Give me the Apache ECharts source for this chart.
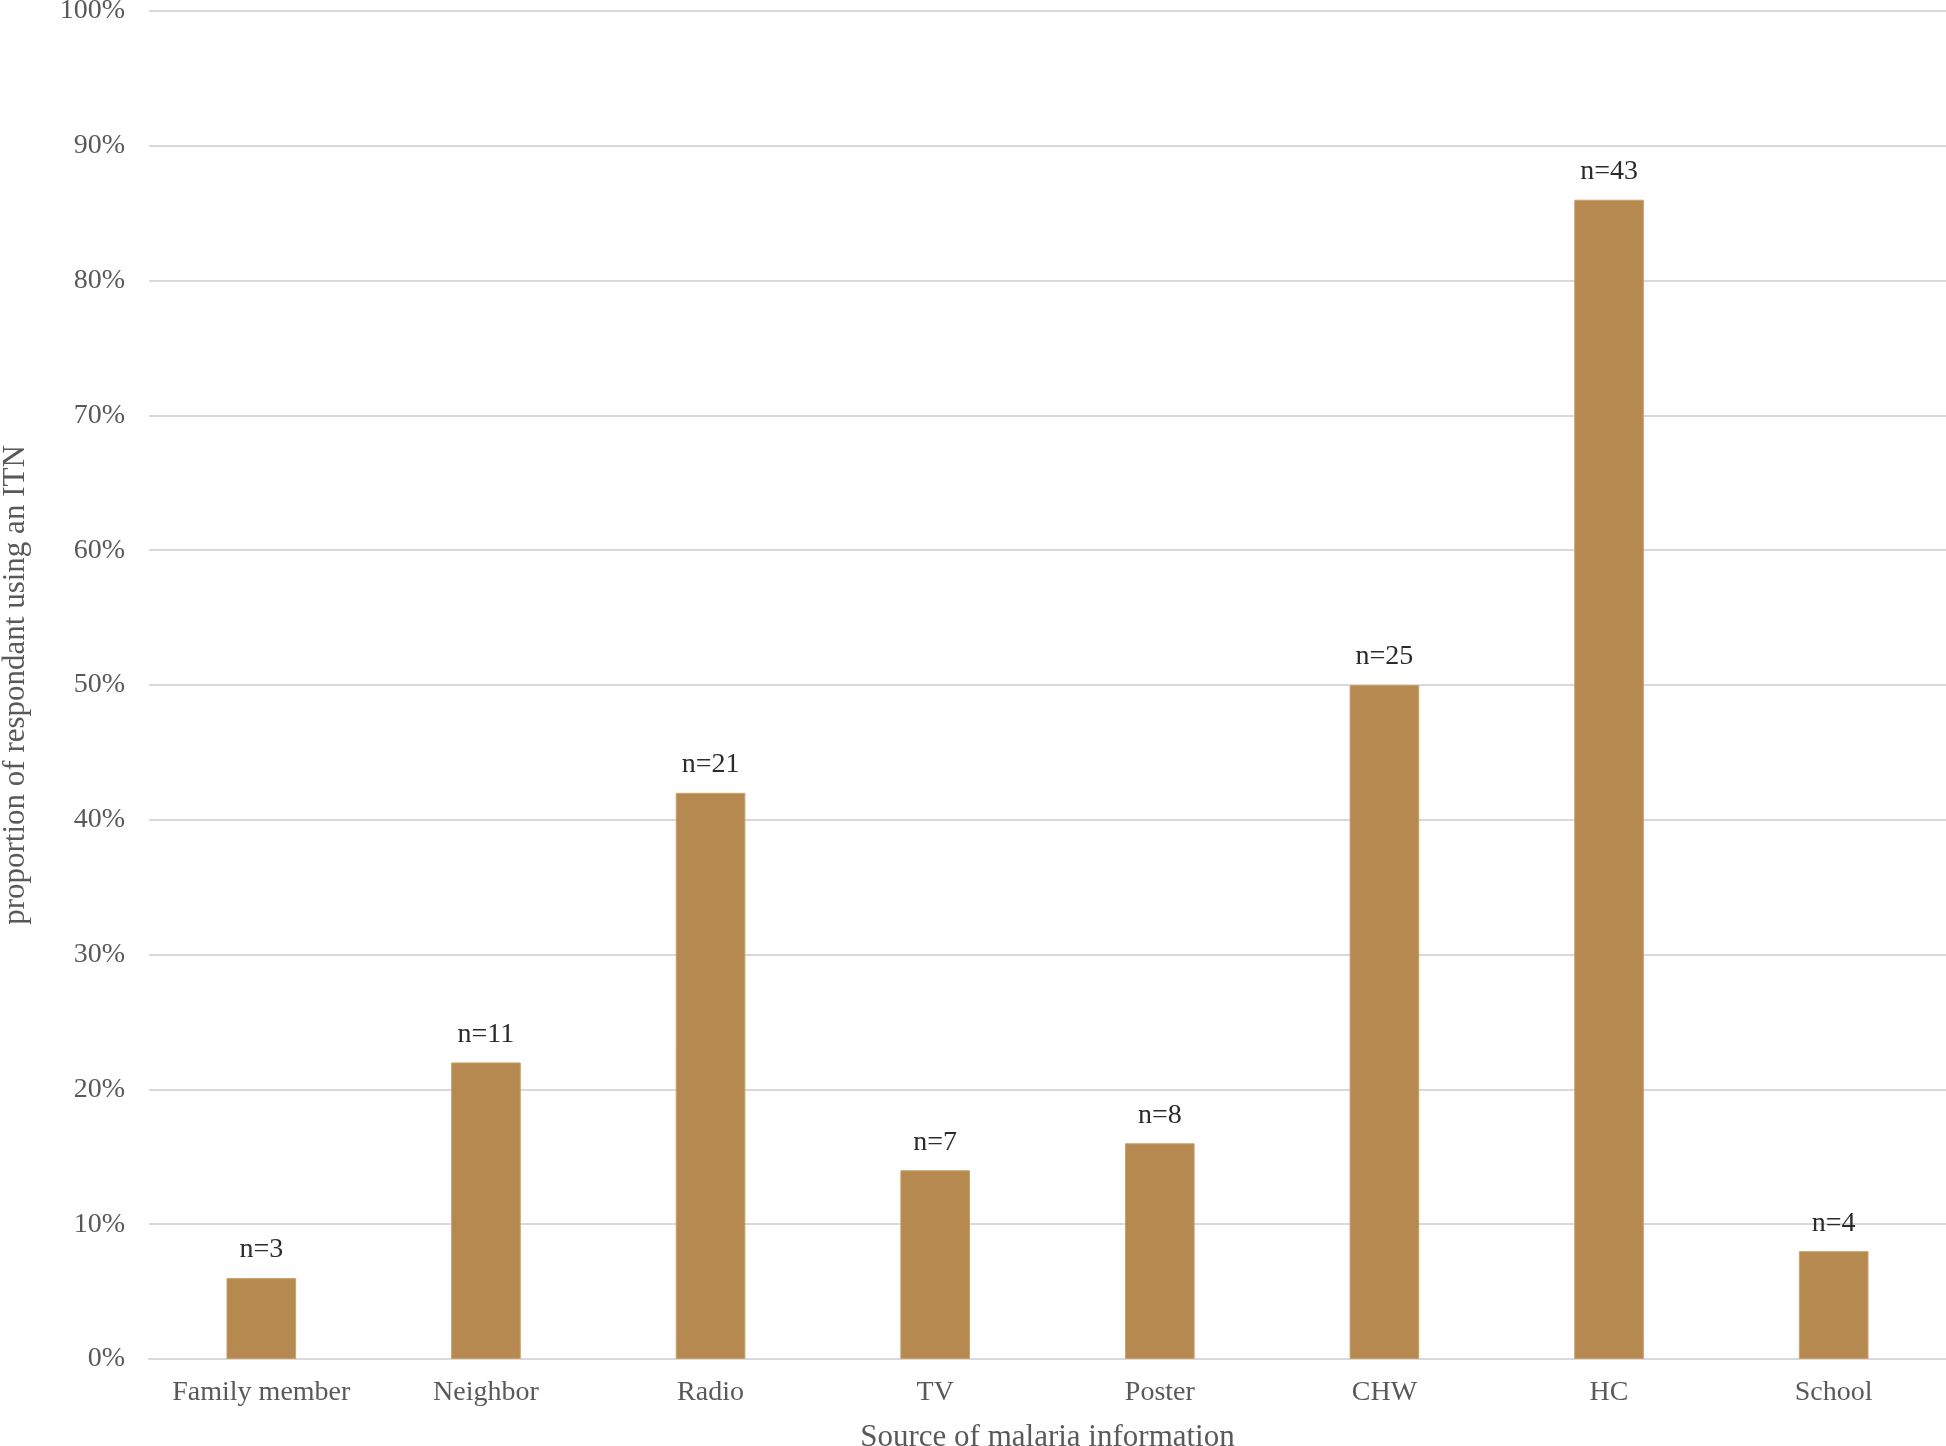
<!DOCTYPE html>
<html lang="en">
<head>
    <meta charset="UTF-8">
    <title>ITN use by source of malaria information</title>
    <script src="https://cdn.jsdelivr.net/npm/echarts@6/dist/echarts.min.js"></script>
    <style type="text/css">
        html, body { margin: 0; padding: 0; background: #fff; }
        #main { width: 1946px; height: 1446px; }
    </style>
</head>
<body>
    <div id="main"></div>
    <script>
        // data
        var categories = ['Family member', 'Neighbor', 'Radio', 'TV', 'Poster', 'CHW', 'HC', 'School'];
        var percentValues = [6, 22, 42, 14, 16, 50, 86, 8];
        var nValues = [3, 11, 21, 7, 8, 25, 43, 4];

        var myChart = echarts.init(document.getElementById('main'));
        var serif = '"Liberation Serif", "DejaVu Serif", serif';

        var option = {
            backgroundColor: '#fff',
            animation: false,
            textStyle: { fontFamily: serif },
            grid: {
                left: 149,
                right: 0,
                top: 11,
                bottom: 87,
                outerBoundsMode: 'none'  // keep the plot box where it is
            },
            xAxis: {
                type: 'category',
                data: categories,
                name: 'Source of malaria information',
                nameLocation: 'middle',
                nameGap: 63,
                nameTextStyle: { fontFamily: serif, fontSize: 31, color: '#595959' },
                axisLine: { lineStyle: { color: '#d9d9d9', width: 2 } },
                axisTick: { show: false },
                axisLabel: { fontFamily: serif, fontSize: 28, color: '#595959', margin: 20, interval: 0 }
            },
            yAxis: {
                type: 'value',
                min: 0,
                max: 100,
                interval: 10,
                name: 'proportion of respondant using an ITN',
                nameLocation: 'middle',
                nameGap: 118,
                nameTextStyle: { fontFamily: serif, fontSize: 31, color: '#595959' },
                axisLine: { show: false },
                axisTick: { show: false },
                axisLabel: {
                    fontFamily: serif, fontSize: 28, color: '#595959', margin: 24,
                    formatter: '{value}%'
                },
                splitLine: { lineStyle: { color: '#d9d9d9', width: 2 } }
            },
            series: [
                {
                    type: 'bar',
                    data: percentValues,
                    barWidth: '31%',
                    itemStyle: { color: '#b5894f', borderColor: '#c9a06a', borderWidth: 1 },
                    label: {
                        show: true,
                        position: 'top',
                        distance: 14,
                        fontFamily: serif,
                        fontSize: 28,
                        color: '#2b2b2b',
                        formatter: function (p) {
                            return 'n=' + nValues[p.dataIndex];
                        }
                    }
                }
            ]
        };
        myChart.setOption(option);
    </script>
</body>
</html>
